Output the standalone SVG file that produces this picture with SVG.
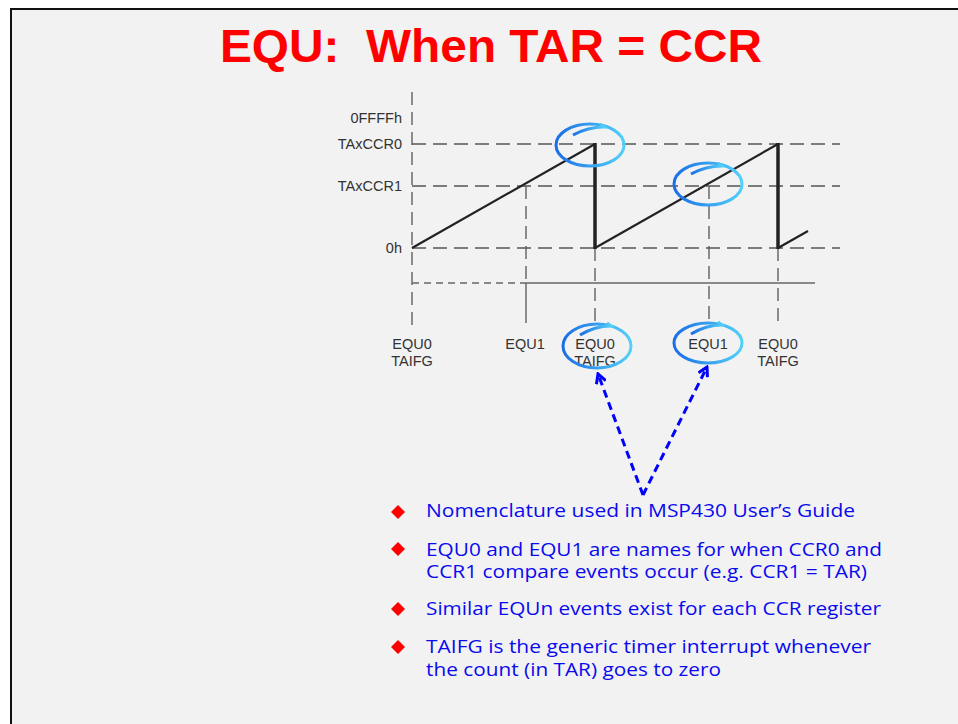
<svg xmlns="http://www.w3.org/2000/svg" width="958" height="724" viewBox="0 0 958 724">
<style>
.ax{font-family:"Liberation Sans",Arial,sans-serif;font-size:14.5px;fill:#333}
.lbl{font-family:"Liberation Sans",Arial,sans-serif;font-size:14.5px;fill:#333;text-anchor:middle}
.dash{stroke:#555;stroke-width:1.3;fill:none;stroke-dasharray:14,7}
.vdash{stroke:#555;stroke-width:1.3;fill:none;stroke-dasharray:13,7}
.ramp{stroke:#222;stroke-width:2.2;fill:none}
.drop{stroke:#222;stroke-width:3.5;fill:none}
.circ{fill:none;stroke:url(#cg);stroke-width:3}
.bul{font-family:"Open Sans","Noto Sans",sans-serif;font-size:19px;fill:#0a0aee}
.dia{fill:#ff0000}
.arr{stroke:#0000ff;stroke-width:3;fill:none;stroke-dasharray:8,5}
</style>
<defs>
<linearGradient id="cg" x1="0" y1="0" x2="1" y2="0">
<stop offset="0" stop-color="#1a6ee6"/>
<stop offset="1" stop-color="#52d0f8"/>
</linearGradient>
<marker id="ah" viewBox="0 0 12 12" refX="10" refY="6" markerWidth="12" markerHeight="12" markerUnits="userSpaceOnUse" orient="auto">
<path d="M1,1 L10,6 L1,11" fill="none" stroke="#0000ff" stroke-width="3"/>
</marker>
</defs>
<rect x="0" y="0" width="958" height="724" fill="#ffffff"/>
<rect id="slide" x="11" y="9" width="980" height="740" fill="#f2f2f2" stroke="#111" stroke-width="2"/>
<text id="title" x="491" y="62" text-anchor="middle" textLength="542" lengthAdjust="spacingAndGlyphs" style="white-space:pre" font-family="Liberation Sans,Arial,sans-serif" font-weight="bold" font-size="47" fill="#ff0000">EQU:  When TAR = CCR</text>

<g id="chart">
<line class="vdash" x1="412" y1="92" x2="412" y2="330"/>
<line class="dash" x1="412" y1="144" x2="840" y2="144"/>
<line class="dash" x1="412" y1="186" x2="840" y2="186"/>
<line class="dash" x1="412" y1="248" x2="840" y2="248"/>
<line class="vdash" x1="526" y1="186" x2="526" y2="283"/>
<line x1="526" y1="283" x2="526" y2="323" stroke="#555" stroke-width="1.3"/>
<line class="vdash" x1="595" y1="248" x2="595" y2="325"/>
<line class="vdash" x1="709" y1="186" x2="709" y2="325"/>
<line class="vdash" x1="778" y1="248" x2="778" y2="325"/>
<line x1="412" y1="283" x2="526" y2="283" stroke="#666" stroke-width="1.3" stroke-dasharray="7,5"/>
<line x1="526" y1="283" x2="815" y2="283" stroke="#666" stroke-width="1.3"/>
<polyline class="ramp" points="412,248 595,144"/>
<polyline class="ramp" points="595,248 778,144"/>
<polyline class="ramp" points="778,248 808,231"/>
<line class="drop" x1="595" y1="143" x2="595" y2="249"/>
<line class="drop" x1="778" y1="143" x2="778" y2="249"/>
<text class="ax" x="402" y="123" text-anchor="end">0FFFFh</text>
<text class="ax" x="402" y="149" text-anchor="end">TAxCCR0</text>
<text class="ax" x="402" y="191" text-anchor="end">TAxCCR1</text>
<text class="ax" x="402" y="253" text-anchor="end">0h</text>
<text class="lbl" x="412" y="349">EQU0</text>
<text class="lbl" x="412" y="366">TAIFG</text>
<text class="lbl" x="525" y="349">EQU1</text>
<text class="lbl" x="595" y="349">EQU0</text>
<text class="lbl" x="595" y="366">TAIFG</text>
<text class="lbl" x="708" y="349">EQU1</text>
<text class="lbl" x="778" y="349">EQU0</text>
<text class="lbl" x="778" y="366">TAIFG</text>
</g>

<g id="circles">
<ellipse class="circ" cx="590" cy="145" rx="34" ry="21"/>
<path class="circ" d="M573,135 Q588,127 604,127 L600,124"/>
<ellipse class="circ" cx="708" cy="184" rx="34" ry="21"/>
<path class="circ" d="M691,174 Q706,166 722,166 L718,163"/>
<ellipse class="circ" cx="597" cy="346" rx="34" ry="22"/>
<path class="circ" d="M580,335 Q595,326 611,326 L607,323"/>
<ellipse class="circ" cx="708" cy="343" rx="34" ry="20"/>
<path class="circ" d="M691,334 Q706,325 722,325 L718,322"/>
</g>

<g id="connectors">
<line class="arr" x1="643" y1="495" x2="598" y2="374" marker-end="url(#ah)"/>
<line class="arr" x1="643" y1="495" x2="707" y2="367" marker-end="url(#ah)"/>
</g>

<g id="bullets">
<polygon class="dia" points="398,505 405,512 398,519 391,512"/>
<polygon class="dia" points="398,542 405,549 398,556 391,549"/>
<polygon class="dia" points="398,602 405,609 398,616 391,609"/>
<polygon class="dia" points="398,640 405,647 398,654 391,647"/>
<text class="bul" x="426" y="517" textLength="429" lengthAdjust="spacingAndGlyphs">Nomenclature used in MSP430 User’s Guide</text>
<text class="bul" x="426" y="556" textLength="456" lengthAdjust="spacingAndGlyphs">EQU0 and EQU1 are names for when CCR0 and</text>
<text class="bul" x="426" y="578" textLength="441" lengthAdjust="spacingAndGlyphs">CCR1 compare events occur (e.g. CCR1 = TAR)</text>
<text class="bul" x="426" y="615" textLength="455" lengthAdjust="spacingAndGlyphs">Similar EQUn events exist for each CCR register</text>
<text class="bul" x="426" y="653" textLength="445" lengthAdjust="spacingAndGlyphs">TAIFG is the generic timer interrupt whenever</text>
<text class="bul" x="426" y="676" textLength="295" lengthAdjust="spacingAndGlyphs">the count (in TAR) goes to zero</text>
</g>
</svg>
